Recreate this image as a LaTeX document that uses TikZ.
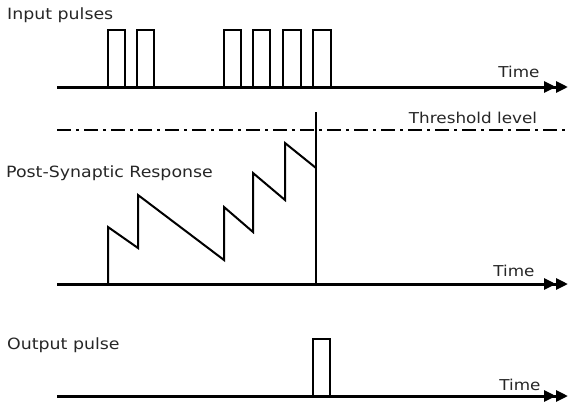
\documentclass[tikz,border=0pt]{standalone}
\usepackage{fontspec}
\setmainfont{DejaVu Sans}[FakeStretch=1.12]
\usetikzlibrary{arrows.meta}
\begin{document}
\begin{tikzpicture}[x=1pt,y=-1pt,
  axis/.style={line width=3pt,-{Triangle[length=12pt,width=11pt]Triangle[length=12pt,width=11pt]}},
  pulse/.style={line width=2.6pt},
  wave/.style={line width=2pt,line join=miter},
  thr/.style={line width=1.8pt,dash pattern=on 14pt off 5pt on 3pt off 5pt},
  lbl/.style={inner sep=0pt,anchor=west,font=\fontsize{15.5}{17}\selectfont,text=black!85},
  tlbl/.style={inner sep=0pt,font=\fontsize{15}{17}\selectfont,text=black!85}]
\useasboundingbox (0,0) rectangle (569,402);
% input pulses
\node[lbl] (inlbl) at (7,15) {Input pulses};
\coordinate (a1s) at (57,87);
\coordinate (a1e) at (568,87);
\foreach \xa/\xb in {108/125,137/154,224/241,253/270,283/301,313/331}
  \draw[pulse] (\xa,87) -- (\xa,30) -- (\xb,30) -- (\xb,87);
\draw[axis] (a1s) -- (a1e);
\node[tlbl] (t1) at (519,72) {Time};
% threshold
\coordinate (th1) at (57,130);
\coordinate (th2) at (569,130);
\draw[thr] (th1) -- (th2);
\node[tlbl] (thl) at (473,118) {Threshold level};
% response
\node[lbl] (psr) at (6,173) {Post-Synaptic Response};
\coordinate (a2s) at (57,284);
\coordinate (a2e) at (568,284);
\draw[wave] (108,284) -- (108,227) -- (138,248) -- (138,195) -- (224,260) -- (224,207)
  -- (253,232) -- (253,173) -- (285,200) -- (285,143) -- (316,168);
\coordinate (sp1) at (316,112);
\coordinate (sp2) at (316,284);
\draw[wave] (sp1) -- (sp2);
\draw[axis] (a2s) -- (a2e);
\node[tlbl] (t2) at (514,271) {Time};
% output
\node[lbl] (outl) at (7,345) {Output pulse};
\coordinate (a3s) at (57,396);
\coordinate (a3e) at (568,396);
\draw[pulse] (313,396) -- (313,339) -- (330,339) -- (330,396);
\draw[axis] (a3s) -- (a3e);
\node[tlbl] (t3) at (520,385) {Time};
\end{tikzpicture}
\end{document}
